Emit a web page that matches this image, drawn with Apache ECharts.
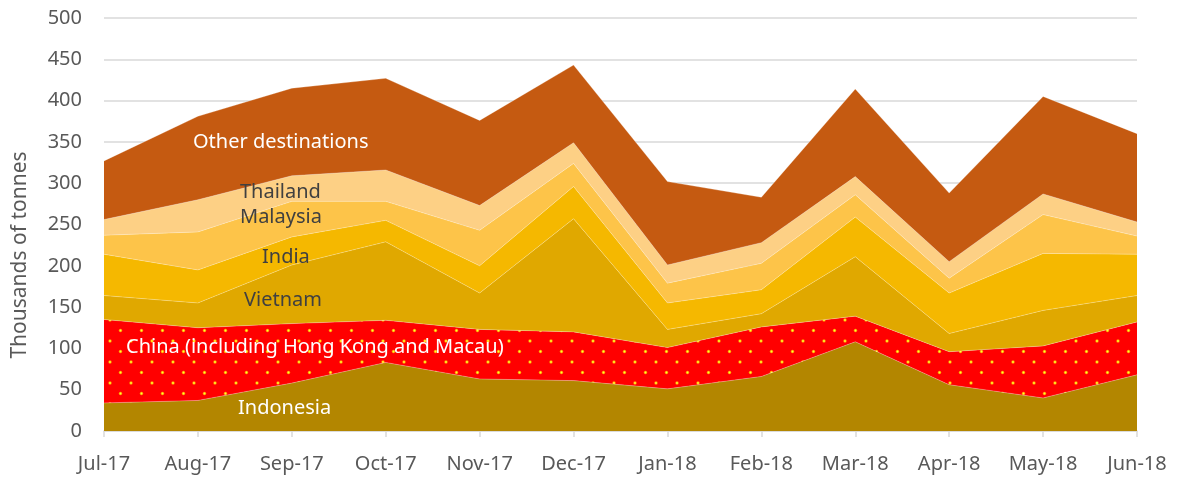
<!DOCTYPE html>
<html>
<head>
<meta charset="utf-8">
<script src="https://cdn.jsdelivr.net/npm/echarts@6/dist/echarts.min.js"></script>
<style>
  html, body { margin: 0; padding: 0; background: #fff; }
  #chart { width: 1178px; height: 477px; }
</style>
</head>
<body>
<div id="chart"></div>
<script>
  // months on the x axis
  const months = ['Jul-17', 'Aug-17', 'Sep-17', 'Oct-17', 'Nov-17', 'Dec-17',
                  'Jan-18', 'Feb-18', 'Mar-18', 'Apr-18', 'May-18', 'Jun-18'];

  // thousands of tonnes per destination (stacked, bottom first)
  const indonesia = [34, 37, 58, 83, 63, 61, 51, 66, 108, 56, 40, 68];
  const china     = [101, 88, 72, 51, 60, 59, 50, 60, 31, 40, 63, 64];
  const vietnam   = [29, 30, 71, 95, 44, 137, 22, 16, 72, 22, 43, 32];
  const india     = [50, 40, 34, 26, 33, 39, 32, 29, 48, 49, 69, 50];
  const malaysia  = [23, 46, 43, 23, 43, 28, 24, 32, 27, 18, 47, 22];
  const thailand  = [19, 39, 31, 38, 30, 25, 22, 25, 22, 20, 25, 17];
  const other     = [71, 101, 106, 111, 103, 94, 101, 55, 106, 83, 118, 107];

  const font = '"Noto Sans", "Open Sans", sans-serif';

  // red fill with small yellow dots for China
  function dotPattern() {
    const c = document.createElement('canvas');
    c.width = 21; c.height = 21;
    const g = c.getContext('2d');
    g.fillStyle = '#FF0000';
    g.fillRect(0, 0, 21, 21);
    [[5, 5], [15.5, 15.5]].forEach(function (p) {
      g.fillStyle = '#FF9900';
      g.beginPath(); g.arc(p[0], p[1], 1.7, 0, Math.PI * 2); g.fill();
      g.fillStyle = '#FFFF33';
      g.beginPath(); g.arc(p[0], p[1], 0.9, 0, Math.PI * 2); g.fill();
    });
    return c;
  }

  function layer(name, data, color) {
    return {
      name: name,
      type: 'line',
      stack: 'total',
      data: data,
      symbol: 'none',
      lineStyle: { width: 0.6, color: 'rgba(255,255,255,0.45)' },
      areaStyle: { color: color, opacity: 1 },
      emphasis: { disabled: true }
    };
  }

  // in-chart labels
  function tag(text, x, y, fill) {
    return {
      type: 'text', x: x, y: y, z: 100,
      style: { text: text, fill: fill, fontSize: 20, fontFamily: font, textVerticalAlign: 'middle' }
    };
  }

  const myChart = echarts.init(document.getElementById('chart'));

  const option = {
    animation: false,
    grid: { left: 104, right: 41, top: 18, bottom: 46 },
    xAxis: {
      type: 'category',
      data: months,
      boundaryGap: false,
      axisLine: { lineStyle: { color: '#D9D9D9', width: 1.5 } },
      axisTick: { show: true, length: 6, lineStyle: { color: '#D9D9D9', width: 1.5 } },
      axisLabel: { color: '#595959', fontSize: 20, fontFamily: font, margin: 23 }
    },
    yAxis: {
      type: 'value',
      min: 0,
      max: 500,
      interval: 50,
      axisLine: { show: false },
      axisTick: { show: false },
      axisLabel: { color: '#595959', fontSize: 20, fontFamily: font, margin: 22 },
      splitLine: { lineStyle: { color: '#D9D9D9', width: 1.5 } }
    },
    series: [
      layer('Indonesia', indonesia, '#B38600'),
      layer('China (including Hong Kong and Macau)', china, { image: dotPattern(), repeat: 'repeat' }),
      layer('Vietnam', vietnam, '#E0A800'),
      layer('India', india, '#F5B800'),
      layer('Malaysia', malaysia, '#FDC449'),
      layer('Thailand', thailand, '#FDD085'),
      layer('Other destinations', other, '#C55A11')
    ],
    graphic: [
      {
        type: 'text', x: 20, y: 255, rotation: Math.PI / 2, z: 100,
        style: { text: 'Thousands of tonnes', fill: '#595959', fontSize: 21, fontFamily: font,
                 textAlign: 'center', textVerticalAlign: 'middle' }
      },
      tag('Other destinations', 193, 142, '#fff'),
      tag('Thailand', 240, 192, '#404040'),
      tag('Malaysia', 240, 217, '#404040'),
      tag('India', 262, 257, '#404040'),
      tag('Vietnam', 244, 300, '#404040'),
      tag('China (including Hong Kong and Macau)', 126, 347, '#fff'),
      tag('Indonesia', 238, 408, '#fff')
    ]
  };

  option && myChart.setOption(option);
</script>
</body>
</html>
